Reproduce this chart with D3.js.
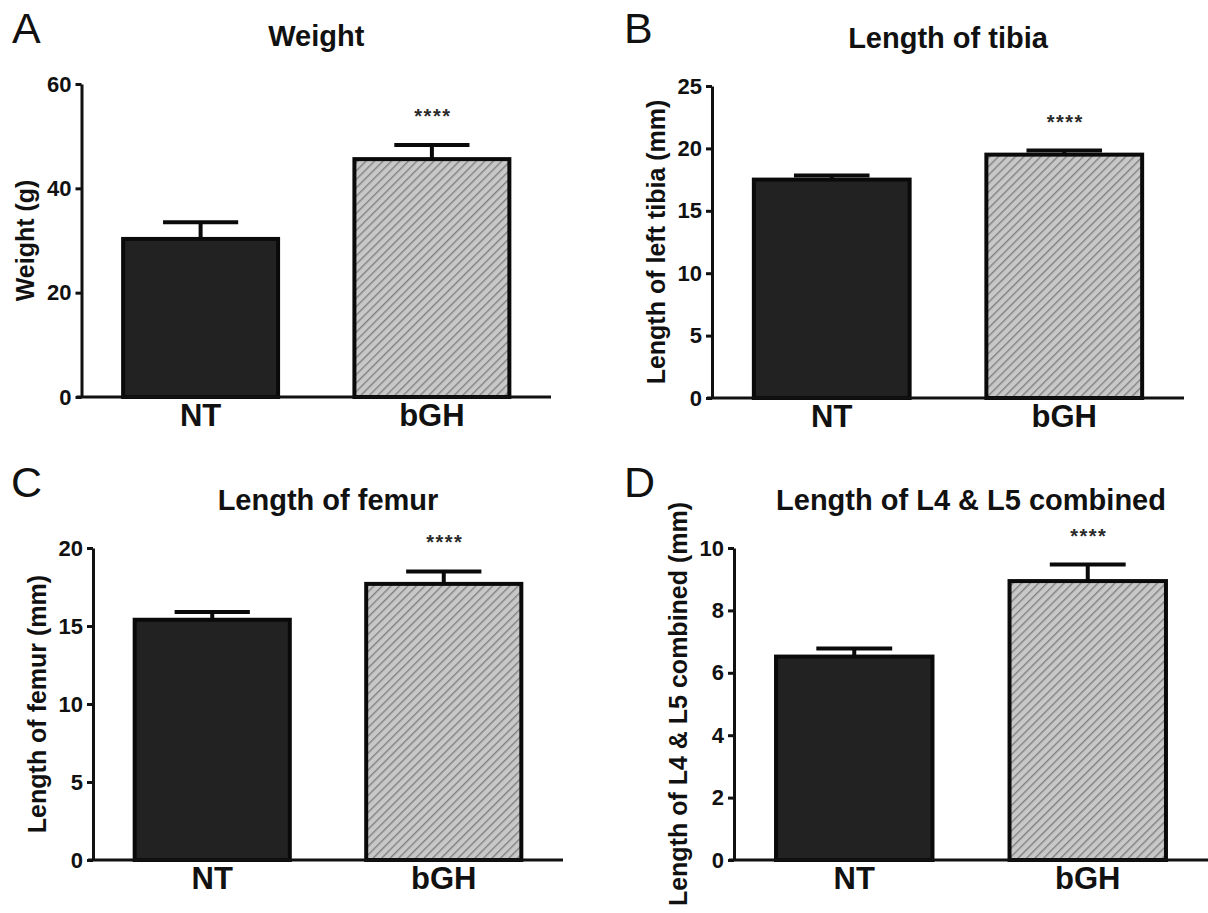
<!DOCTYPE html>
<html>
<head>
  <script src="https://d3js.org/d3.v7.min.js"></script>
  <style>
    html, body {
      margin: 0px;
      padding: 0px;
      background: white;
    }
    text {
      font-family: "Liberation Sans", Arial, Helvetica, sans-serif;
    }
    .panelLetter { font-size: 43px; fill: #111; }
    .title { font-size: 29px; font-weight: bold; fill: #111; }
    .yLabel { font-size: 25px; font-weight: bold; fill: #111; }
    .tick text { font-size: 22px; font-weight: bold; fill: #111; }
    .cat .tick text { font-size: 31px; }
    .stars { font-size: 20px; font-weight: bold; fill: #2a2a2a; letter-spacing: 1.5px; }
  </style>
</head>
<body>
  <script>
    // chart data
    const panelLetters = ["A", "B", "C", "D"];
    const titles = ["Weight", "Length of tibia", "Length of femur", "Length of L4 & L5 combined"];
    const yLabels = ["Weight (g)", "Length of left tibia (mm)", "Length of femur (mm)", "Length of L4 & L5 combined (mm)"];
    const groups = ["NT", "bGH"];
    const yMax = [60, 25, 20, 10];
    const yTickStep = [20, 5, 5, 2];
    const means = [[30.3, 45.6], [17.5, 19.5], [15.4, 17.7], [6.52, 8.94]];
    const sems = [[3.2, 2.7], [0.33, 0.33], [0.5, 0.8], [0.26, 0.53]];
    const signif = ["****", "****", "****", "****"];   // drawn over bGH

    // layout of the four plot frames
    const frames = [
      {left: 81.5, right: 551, top: 84, bottom: 397, lx: 12, ly: 43},
      {left: 712, right: 1184, top: 86, bottom: 398, lx: 624, ly: 43},
      {left: 93, right: 563, top: 548, bottom: 860, lx: 11, ly: 497},
      {left: 734, right: 1208, top: 548, bottom: 860, lx: 624, ly: 497}
    ];

    const svg = d3.select("body")
      .append("svg")
      .attr("width", 1208)
      .attr("height", 913);

    // grey hatch used for bGH
    const pat = svg.append("defs").append("pattern")
      .attr("id", "hatch")
      .attr("patternUnits", "userSpaceOnUse")
      .attr("width", 6)
      .attr("height", 10)
      .attr("patternTransform", "rotate(45)");
    pat.append("rect").attr("width", 6).attr("height", 10).attr("fill", "#c8c8c8");
    pat.append("line")
      .attr("x1", 0.7).attr("x2", 0.7).attr("y1", 0).attr("y2", 10)
      .attr("stroke", "#7c7c7c").attr("stroke-width", 1.3);

    const fills = ["#222222", "url(#hatch)"];

    frames.forEach((f, p) => {
      const g = svg.append("g");

      const x = d3.scaleBand()
        .domain(groups)
        .range([f.left, f.right])
        .paddingInner(0.33)
        .paddingOuter(0.18);

      const y = d3.scaleLinear()
        .domain([0, yMax[p]])
        .range([f.bottom, f.top]);

      const ticks = d3.range(0, yMax[p] + yTickStep[p] / 2, yTickStep[p]);

      // y axis
      const ya = g.append("g")
        .attr("transform", `translate(${f.left},0)`)
        .call(d3.axisLeft(y).tickValues(ticks).tickSize(6).tickSizeOuter(0).tickPadding(4));
      ya.selectAll("path, line").attr("stroke", "#111").attr("stroke-width", 3);

      const rows = groups.map((k, i) => ({k: k, m: means[p][i], s: sems[p][i], i: i}));

      // bars
      g.selectAll("rect.bar")
        .data(rows)
        .enter()
        .append("rect")
        .attr("class", "bar")
        .attr("x", d => x(d.k))
        .attr("y", d => y(d.m))
        .attr("width", x.bandwidth())
        .attr("height", d => y(0) - y(d.m))
        .attr("fill", d => fills[d.i])
        .attr("stroke", "#0a0a0a")
        .attr("stroke-width", 4);

      // error bars (upper only)
      const cap = x.bandwidth() * 0.485;
      g.selectAll("line.stem")
        .data(rows)
        .enter()
        .append("line")
        .attr("x1", d => x(d.k) + x.bandwidth() / 2)
        .attr("x2", d => x(d.k) + x.bandwidth() / 2)
        .attr("y1", d => y(d.m))
        .attr("y2", d => y(d.m + d.s))
        .attr("stroke", "#0a0a0a")
        .attr("stroke-width", 4);
      g.selectAll("line.cap")
        .data(rows)
        .enter()
        .append("line")
        .attr("x1", d => x(d.k) + x.bandwidth() / 2 - cap / 2)
        .attr("x2", d => x(d.k) + x.bandwidth() / 2 + cap / 2)
        .attr("y1", d => y(d.m + d.s))
        .attr("y2", d => y(d.m + d.s))
        .attr("stroke", "#0a0a0a")
        .attr("stroke-width", 4);

      // x axis with group labels
      const xa = g.append("g")
        .attr("class", "cat")
        .attr("transform", `translate(0,${f.bottom})`)
        .call(d3.axisBottom(x).tickSize(0).tickPadding(7));
      xa.select(".domain").remove();
      g.append("line")
        .attr("x1", f.left - 5).attr("x2", f.right)
        .attr("y1", f.bottom).attr("y2", f.bottom)
        .attr("stroke", "#111").attr("stroke-width", 3);

      // significance stars over bGH
      g.append("text")
        .attr("class", "stars")
        .attr("x", x("bGH") + x.bandwidth() / 2 + 1)
        .attr("y", y(means[p][1] + sems[p][1]) - 22)
        .attr("text-anchor", "middle")
        .text(signif[p]);

      // title, letter and y label
      g.append("text")
        .attr("class", "title")
        .attr("x", (f.left + f.right) / 2)
        .attr("y", f.top - 38)
        .attr("text-anchor", "middle")
        .text(titles[p]);

      g.append("text")
        .attr("class", "panelLetter")
        .attr("x", f.lx)
        .attr("y", f.ly)
        .text(panelLetters[p]);

      g.append("text")
        .attr("class", "yLabel")
        .attr("transform", `translate(${f.left - 56},${(f.top + f.bottom) / 2}) rotate(-90)`)
        .attr("text-anchor", "middle")
        .attr("dy", "0.35em")
        .text(yLabels[p]);
    });
  </script>
</body>
</html>
